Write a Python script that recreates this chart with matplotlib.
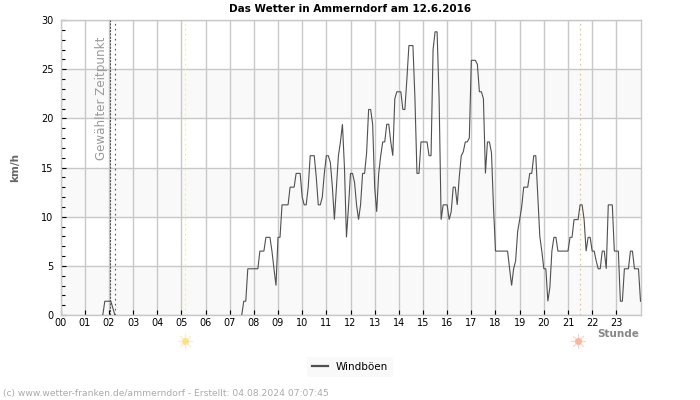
import matplotlib
matplotlib.use("Agg")
import matplotlib.pyplot as plt
from matplotlib.ticker import MultipleLocator

nan = float("nan")

# Windböen, ein Wert alle 5 Minuten (00:00 bis 24:00), ohne Wind keine Linie
windboeen = [nan] * 21 + [0, 1.4, 1.4, 1.4, 1.4, 0.7, 0] + [nan] * 62 + [0, 1.4, 1.4, 4.7, 4.7, 4.7, 4.7, 4.7, 4.7,
    6.5, 6.5, 6.5, 7.9, 7.9, 7.9, 6.5, 4.7, 3.0, 7.9, 7.9, 11.2, 11.2, 11.2, 11.2,
    13, 13, 13, 14.4, 14.4, 14.4, 12, 11.2, 11.2, 13, 16.2, 16.2, 16.2, 14, 11.2, 11.2,
    12, 14.4, 16.2, 16.2, 15.5, 13, 9.7, 13, 16.2, 17.6, 19.4, 15, 7.9, 11,
    14.4, 14.4, 13.5, 11.2, 9.7, 11.2, 14.4, 14.4, 16.5, 20.9, 20.9, 19.4, 13, 10.5,
    14.4, 16.2, 17.6, 17.6, 19.4, 19.4, 17.6, 16.2, 22, 22.7, 22.7, 22.7, 20.9, 20.9,
    24, 27.4, 27.4, 27.4, 22, 14.4, 14.4, 17.6, 17.6, 17.6, 17.6, 16.2, 16.2, 27,
    28.8, 28.8, 22, 9.7, 11.2, 11.2, 11.2, 9.7, 10.5, 13, 13, 11.2, 14, 16.2,
    16.6, 17.6, 17.6, 18, 25.9, 25.9, 25.9, 25.5, 22.7, 22.7, 22, 14.4, 17.6, 17.6,
    16.5, 11, 6.5, 6.5, 6.5, 6.5, 6.5, 6.5, 6.5, 4.7, 3.0, 4.7, 5.5, 8.5, 9.7, 11,
    13, 13, 13, 14.4, 14.4, 16.2, 16.2, 12, 8, 6.5, 4.7, 4.7, 1.4, 2.8, 6.5, 7.9,
    7.9, 6.5, 6.5, 6.5, 6.5, 6.5, 6.5, 7.9, 7.9, 9.7, 9.7, 9.7, 11.2, 11.2, 9.7,
    6.5, 7.9, 7.9, 6.5, 6.5, 5.5, 4.7, 4.7, 6.5, 6.5, 4.7, 11.2, 11.2, 11.2, 6.5,
    6.5, 6.5, 1.4, 1.4, 4.7, 4.7, 4.7, 6.5, 6.5, 4.7, 4.7, 4.7, 1.4]
stunden = [i / 12 for i in range(len(windboeen))]
stunden_labels = [f"{h:02d}" for h in range(24)]
baender = [(0, 5), (10, 15), (20, 25)]
zeitpunkt = [2.04, 2.25]
sonnenaufgang = 5.17
sonnenuntergang = 21.48

fig = plt.figure(figsize=(7, 4), dpi=100)
ax = fig.add_axes([60.5 / 700, 85 / 400, 580 / 700, 295 / 400])

for lo, hi in baender:
    ax.axhspan(lo, hi, color="#f9f9f9", lw=0, zorder=0)
ax.grid(True, which="major", color="#c8c8c8", lw=1.0)

ax.axvline(zeitpunkt[0], color="#555555", lw=0.8, ls=(0, (2, 1)), zorder=2.6)
ax.axvline(zeitpunkt[1], color="#555555", lw=0.8, ls=(0, (1.5, 3)), zorder=2.6)
ax.axvline(sonnenaufgang, color="#f3ea9a", lw=0.8, ls=(0, (1.5, 3)), zorder=2.6)
ax.axvline(sonnenuntergang, color="#f0c078", lw=0.8, ls=(0, (1.5, 3)), zorder=2.6)

ax.plot(stunden, windboeen, color="#505050", lw=0.8, label="Windböen", zorder=3, solid_joinstyle="miter")

ax.set_xlim(0, 24)
ax.set_ylim(0, 30)
ax.set_xticks(range(24))
ax.set_xticklabels(stunden_labels)
ax.yaxis.set_major_locator(MultipleLocator(5))
ax.yaxis.set_minor_locator(MultipleLocator(1))
ax.tick_params(axis="both", which="major", direction="in", length=3.6, width=0.8, labelsize=7, pad=2, color="black")
ax.tick_params(axis="y", which="minor", direction="in", length=2.6, width=0.8, color="black")
ax.tick_params(axis="y", which="major", pad=5)
for s in ax.spines.values():
    s.set_color("#c8c8c8")
    s.set_linewidth(1.0)

ax.text(1.68, 15.75, "Gewählter Zeitpunkt", rotation=90, color="#999999", fontsize=8.6, ha="center", va="bottom", zorder=4)

# Sonnensymbole unter der Achse
trans = ax.get_xaxis_transform()
for x, farbe in [(sonnenaufgang - 0.03, "#fde08a"), (sonnenuntergang - 0.06, "#ffb49a")]:
    ax.plot([x], [-0.088], marker="o", ms=5, color=farbe, mew=0, transform=trans, clip_on=False)
    ax.plot([x], [-0.088], marker=(8, 2, 0), ms=10.5, color=farbe, mew=0.6, alpha=0.6, transform=trans, clip_on=False)

fig.text(350 / 700, 1 - 8.5 / 400, "Das Wetter in Ammerndorf am 12.6.2016", fontsize=7.5, fontweight="bold", ha="center", va="center")
fig.text(15 / 700, 1 - 167 / 400, "km/h", fontsize=7.5, fontweight="bold", color="#666666", rotation=90, ha="center", va="center")
fig.text(639 / 700, 1 - 334 / 400, "Stunde", fontsize=7.5, fontweight="bold", color="#888888", ha="right", va="center")
fig.text(3 / 700, 1 - 393.5 / 400, "(c) www.wetter-franken.de/ammerndorf - Erstellt: 04.08.2024 07:07:45", fontsize=6.6, color="#aaaaaa", ha="left", va="center")

leg = fig.legend(loc="center", bbox_to_anchor=(350 / 700, 1 - 367 / 400), frameon=True, fontsize=7.5, handlelength=1.5,
                 handletextpad=0.8, borderpad=0.45, fancybox=False)
leg.get_frame().set_facecolor("#f9f9f9")
leg.get_frame().set_edgecolor("none")
leg.get_frame().set_alpha(1)
leg.get_lines()[0].set_linewidth(1.6)

fig.savefig("out.png", dpi=100)
